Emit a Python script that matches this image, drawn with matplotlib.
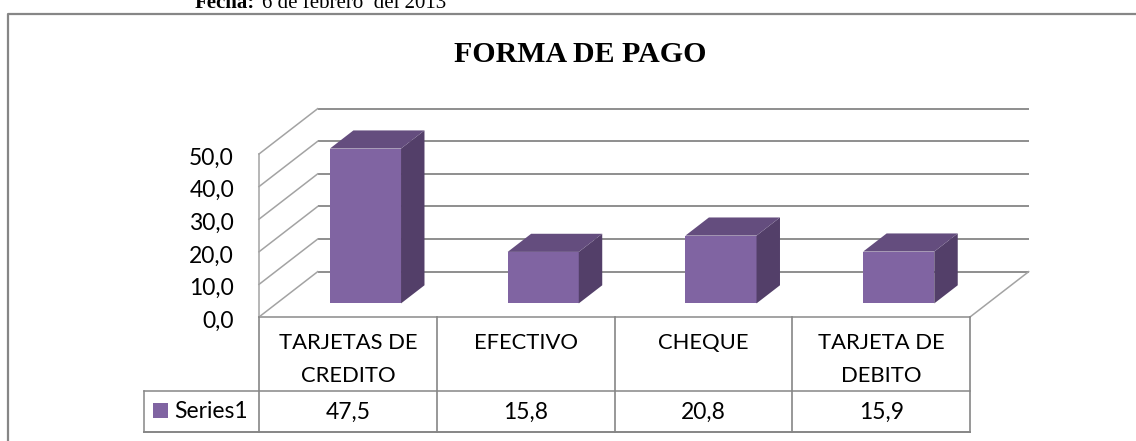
import matplotlib
matplotlib.use('Agg')
import matplotlib.pyplot as plt
from matplotlib.patches import Polygon, Rectangle

categories = ['TARJETAS DE\nCREDITO', 'EFECTIVO', 'CHEQUE', 'TARJETA DE\nDEBITO']
values = [47.5, 15.8, 20.8, 15.9]
value_labels = ['47,5', '15,8', '20,8', '15,9']
series_name = 'Series1'
ticks = [0, 10, 20, 30, 40, 50]
tick_labels = ['0,0', '10,0', '20,0', '30,0', '40,0', '50,0']

W, H = 1136, 441
X0, Y0 = 259, 317      # pixel position of the front corner of the floor
CAT_PX = 177.75        # pixels per category
VAL_PX = 3.26          # pixels per unit
DX = 0.33              # depth shift in categories
DY = 13.9              # depth shift in value units
BAR_W = 0.4
D_FRONT, D_BACK = 0.3, 0.7

FRONT = '#8064A2'
SIDE = '#533F69'
TOP = '#644D7E'
GRID = '#8E8E8E'
WALL = '#A3A3A3'
FRAME = '#868686'
SANS = 'Lato'
SERIF = 'Liberation Serif'

fig = plt.figure(figsize=(W / 100, H / 100), dpi=100, facecolor='white')

# data axes, the 3d look is just a shift along the depth
ax = fig.add_axes([0, 0, 1, 1])
ax.set_xlim(-X0 / CAT_PX, (W - X0) / CAT_PX)
ax.set_ylim((Y0 - H) / VAL_PX, Y0 / VAL_PX)
ax.axis('off')

n = len(categories)
for v in ticks:
    ax.plot([DX, n + DX], [v + DY, v + DY], color=GRID, lw=1.4, zorder=1, solid_capstyle='butt')
    ax.plot([0, DX], [v, v + DY], color=WALL, lw=1.1, zorder=1)
ax.plot([0, 0], [0, ticks[-1]], color=WALL, lw=1.1, zorder=1)
ax.plot([n, n + DX], [0, DY], color=WALL, lw=1.1, zorder=1)

for i, v in enumerate(values):
    l = i + 0.5 - BAR_W / 2 + D_FRONT * DX
    r = l + BAR_W
    y = D_FRONT * DY
    sx = (D_BACK - D_FRONT) * DX
    sy = (D_BACK - D_FRONT) * DY
    ax.add_patch(Rectangle((l, y), BAR_W, v, fc=FRONT, ec='none', zorder=3))
    ax.add_patch(Polygon([(r, y), (r + sx, y + sy), (r + sx, y + sy + v), (r, y + v)],
                         fc=SIDE, ec='none', zorder=3))
    ax.add_patch(Polygon([(l, y + v), (r, y + v), (r + sx, y + sy + v), (l + sx, y + sy + v)],
                         fc=TOP, ec='none', zorder=3))

for v, s in zip(ticks, tick_labels):
    ax.annotate(s, (-25 / CAT_PX, v), xytext=(0, -3), textcoords='offset points', ha='right',
                va='center', fontsize=16.5, family=SANS, color='black')

# pixel axes for the frame, title and the data table
px = fig.add_axes([0, 0, 1, 1])
px.set_xlim(0, W)
px.set_ylim(H, 0)
px.axis('off')
px.patch.set_alpha(0)

# the frame has no right side, the picture is cut there
px.plot([8, 8, W], [H + 2, 14, 14], color=FRAME, lw=1.6, clip_on=False)
px.text(195, 8, 'Fecha:', ha='left', va='baseline', fontsize=15, family=SERIF, weight='bold')
px.text(262, 8, '6 de febrero  del 2013', ha='left', va='baseline', fontsize=15, family=SERIF)
px.text(580, 55, 'FORMA DE PAGO', ha='center', va='center', fontsize=21.5, family=SERIF,
        weight='bold')

T_TOP, T_MID, T_BOT = 317, 391, 432
T_LEFT = 144
cols = [X0 + CAT_PX * i for i in range(n + 1)]
px.plot([cols[0], cols[-1]], [T_TOP, T_TOP], color=WALL, lw=1.4)
px.plot([T_LEFT, cols[-1]], [T_MID, T_MID], color=FRAME, lw=1.1)
px.plot([T_LEFT, cols[-1]], [T_BOT, T_BOT], color=FRAME, lw=1.4)
px.plot([T_LEFT, T_LEFT], [T_MID, T_BOT], color=FRAME, lw=1.1)
for c in cols:
    px.plot([c, c], [T_TOP, T_BOT], color=FRAME, lw=1.2)

for i, (c, s) in enumerate(zip(categories, value_labels)):
    cx = cols[i] + CAT_PX / 2
    lines = c.split('\n')
    for j, t in enumerate(lines):
        px.text(cx, 343 + j * 33, t, ha='center', va='center', fontsize=15.8, family=SANS)
    px.text(cx, 412, s, ha='center', va='center', fontsize=16.5, family=SANS)

px.add_patch(Rectangle((153, 403), 15, 15, fc=FRONT, ec='none'))
px.text(174, 412, series_name, ha='left', va='center', fontsize=16.5, family=SANS)

fig.savefig('out.png', dpi=100)
